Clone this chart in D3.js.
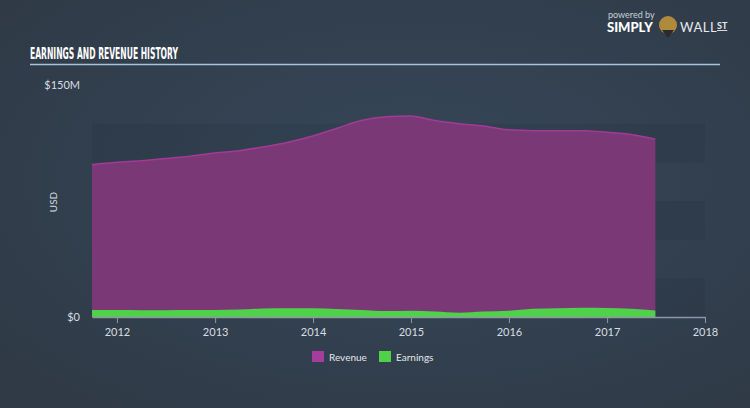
<!DOCTYPE html>
<html><head><meta charset="utf-8">
<script src="https://cdn.jsdelivr.net/npm/d3@7"></script>
<style>
html,body{margin:0;padding:0;background:#333f4d;}
svg{display:block;}
</style></head>
<body>
<svg id="c" width="750" height="408"></svg>
<script>
const dates = ["2011-09-30","2011-12-31","2012-03-31","2012-06-30","2012-09-30","2012-12-31",
"2013-03-31","2013-06-30","2013-09-30","2013-12-31","2014-03-31","2014-06-30","2014-09-30",
"2014-12-31","2015-03-31","2015-06-30","2015-09-30","2015-12-31","2016-03-31","2016-06-30",
"2016-09-30","2016-12-31","2017-03-31","2017-06-30"];
const revenue = [98.5,100,101,102.5,104,106,107.5,110,113,117,122,127,129.5,130,127,125,123.5,121,120.5,120.5,120.5,119.5,118,115];
const earnings = [4.5,4.5,4.4,4.4,4.5,4.5,4.8,5.5,5.7,5.6,5.2,4.5,3.8,4.0,3.5,2.8,3.5,4.0,5.3,5.6,6.0,5.8,5.3,4.2];
const yearTicks = ["2012","2013","2014","2015","2016","2017","2018"];
const yTickLabels = ["$0","$150M"];
const yTickValues = [0,150];
const bandEdges = [0,25,50,75,100,125];
const seriesNames = ["Revenue","Earnings"];
const seriesColors = ["#7b3877","#4fd14a"];

const svg = d3.select("#c");
const W = 750, H = 408;
const defs = svg.append("defs");
const rg = defs.append("radialGradient").attr("id","bg").attr("cx","55%").attr("cy","45%").attr("r","70%");
rg.append("stop").attr("offset","0%").attr("stop-color","#37475a");
rg.append("stop").attr("offset","100%").attr("stop-color","#2f3a46");
svg.append("rect").attr("width",W).attr("height",H).attr("fill","url(#bg)");

const parse = d3.timeParse("%Y-%m-%d");
const data = dates.map((d,i)=>({date:parse(d), rev:revenue[i], earn:earnings[i]}));

const x = d3.scaleTime().domain([parse("2011-09-30"), parse("2018-01-01")]).range([92,705]);
const y = d3.scaleLinear().domain([0,150]).range([317,85]);

// bands
for (let i=0;i<bandEdges.length-1;i+=2){
  svg.append("rect").attr("x",92).attr("width",613)
    .attr("y",y(bandEdges[i+1])).attr("height",y(bandEdges[i])-y(bandEdges[i+1]))
    .attr("fill","rgba(20,28,38,0.10)");
}

// areas
const curve = d3.curveMonotoneX;
const aRev = d3.area().x(d=>x(d.date)).y0(y(0)).y1(d=>y(d.rev)).curve(curve);
const lRev = d3.line().x(d=>x(d.date)).y(d=>y(d.rev)).curve(curve);
const aEarn = d3.area().x(d=>x(d.date)).y0(y(0)).y1(d=>y(d.earn)).curve(curve);
svg.append("path").datum(data).attr("d",aRev).attr("fill",seriesColors[0]);
svg.append("path").datum(data).attr("d",lRev).attr("fill","none").attr("stroke","#a03c93").attr("stroke-width",1.5);
svg.append("path").datum(data).attr("d",aEarn).attr("fill",seriesColors[1]);

// x axis
const xa = svg.append("g").attr("transform","translate(0,317)")
  .call(d3.axisBottom(x).tickValues(yearTicks.map(t=>parse(t+"-01-01"))).tickFormat((d,i)=>yearTicks[i]).tickSize(6).tickSizeOuter(0));
xa.select(".domain").attr("stroke","#8d99a6").attr("stroke-width",1.5);
xa.selectAll(".tick line").attr("stroke","#8d99a6");
xa.selectAll(".tick text").attr("fill","#d8dde3").attr("font-family","Lato, 'Open Sans', sans-serif").attr("font-size",11).attr("dy","0.9em");

// y labels
svg.selectAll(".ylab").data(yTickValues).enter().append("text")
  .attr("x",80).attr("y",d=>y(d)).attr("dy","0.35em").attr("text-anchor","end")
  .attr("fill","#d8dde3").attr("font-family","Lato, 'Open Sans', sans-serif").attr("font-size",11)
  .text((d,i)=>yTickLabels[i]);
svg.append("text").attr("transform","translate(57,202) rotate(-90)").attr("text-anchor","middle")
  .attr("fill","#d8dde3").attr("font-family","Lato, 'Open Sans', sans-serif").attr("font-size",10).text("USD");

// title
svg.append("text").attr("x",30).attr("y",59).attr("fill","#ffffff")
  .attr("font-family","'Liberation Sans Narrow','DejaVu Sans Condensed',sans-serif").attr("font-weight","bold")
  .attr("font-size",15.5).attr("textLength",148).attr("lengthAdjust","spacingAndGlyphs")
  .text("EARNINGS AND REVENUE HISTORY");
svg.append("line").attr("x1",30).attr("x2",720).attr("y1",64.5).attr("y2",64.5).attr("stroke","#a8c3dc").attr("stroke-width",1.5);

// legend
const lg = svg.append("g");
const legX = [312,379];
seriesNames.forEach((n,i)=>{
  lg.append("rect").attr("x",legX[i]).attr("y",351).attr("width",12).attr("height",11).attr("fill",i==0?"#a63c9b":seriesColors[1]);
  lg.append("text").attr("x",legX[i]+17).attr("y",357).attr("dy","0.35em").attr("fill","#e4e8ec")
    .attr("font-family","Lato, 'Open Sans', sans-serif").attr("font-size",10).text(n);
});

// logo
svg.append("text").attr("x",608).attr("y",18).attr("fill","#c9d0d8").attr("font-family","Lato, sans-serif").attr("font-size",9).text("powered by");
svg.append("text").attr("x",607).attr("y",32).attr("fill","#ffffff").attr("font-family","Lato, sans-serif").attr("font-weight","900").attr("font-size",13).text("SIMPLY");
svg.append("circle").attr("cx",668).attr("cy",25).attr("r",9).attr("fill","#b08a3c");
svg.append("path").attr("d","M662,30 L668,38 L674,30 Z").attr("fill","#2b2b2b");
svg.append("text").attr("x",680).attr("y",32).attr("fill","#e6eaee").attr("font-family","Lato, sans-serif").attr("font-size",13).attr("letter-spacing","0.5").text("WALL");
svg.append("text").attr("x",717).attr("y",29).attr("fill","#e6eaee").attr("font-family","Lato, sans-serif").attr("font-weight","bold").attr("font-size",9).attr("text-decoration","underline").text("ST");
</script>
</body></html>
